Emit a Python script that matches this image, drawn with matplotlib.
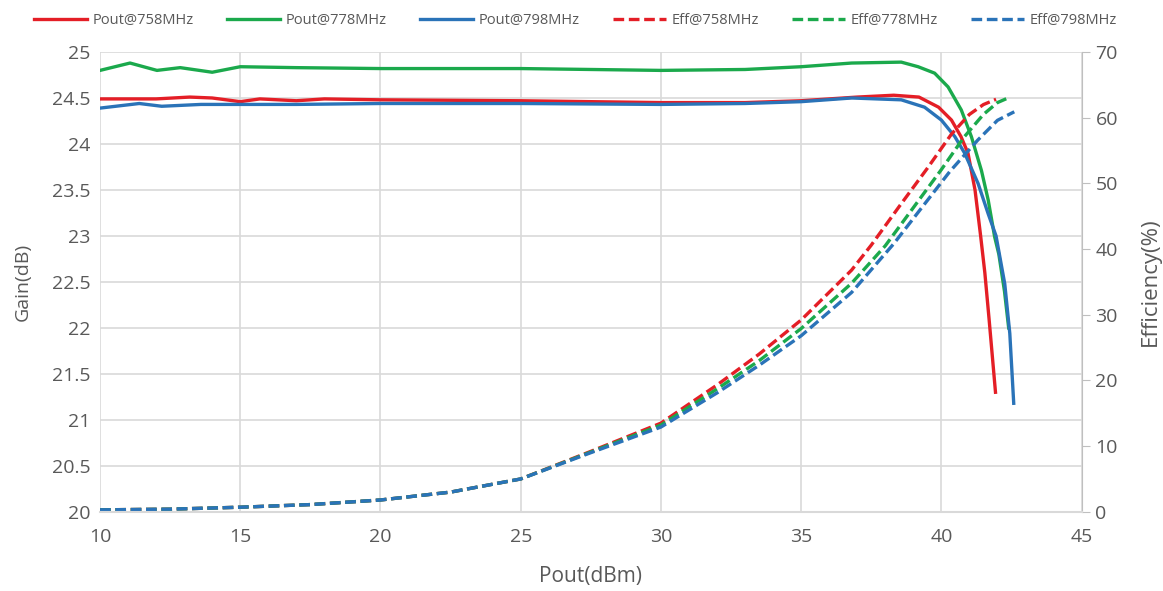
import matplotlib
matplotlib.use('Agg')
import matplotlib.pyplot as plt

plt.rcParams['font.family'] = ['Open Sans', 'DejaVu Sans']

# Gain vs Pout (left axis)
pout_g758 = [10, 11, 12, 13.2, 14, 15, 15.7, 17, 18, 20, 25, 30, 33, 35, 37, 38.3, 39.2,
             39.9, 40.36, 40.7, 40.95, 41.2, 41.4, 41.55, 41.7, 41.93]
gain_758 = [24.49, 24.49, 24.49, 24.51, 24.5, 24.46, 24.49, 24.47, 24.49, 24.48, 24.47, 24.45, 24.45,
            24.47, 24.51, 24.53, 24.51, 24.4, 24.26, 24.08, 23.9, 23.5, 23.0, 22.6, 22.1, 21.3]

pout_g778 = [10, 11.07, 12.03, 12.86, 14, 15, 17, 20, 25, 30, 33, 35, 36.8, 38.57, 39.17, 39.76,
             40.24, 40.71, 41.07, 41.43, 41.67, 41.9, 42.05, 42.25, 42.4]
gain_778 = [24.8, 24.88, 24.8, 24.83, 24.78, 24.84, 24.83, 24.82, 24.82, 24.8, 24.81, 24.84, 24.88,
            24.89, 24.84, 24.77, 24.62, 24.37, 24.08, 23.71, 23.39, 22.99, 22.8, 22.4, 22.0]

pout_g798 = [10, 11.4, 12.2, 13.6, 17, 20, 25, 30, 33, 35, 36.8, 38.57, 39.4, 40.0, 40.48, 40.83,
             41.31, 41.67, 41.95, 42.26, 42.44, 42.58]
gain_798 = [24.39, 24.44, 24.41, 24.43, 24.43, 24.44, 24.44, 24.43, 24.44, 24.46, 24.5, 24.48, 24.4,
            24.26, 24.08, 23.9, 23.57, 23.24, 23.0, 22.48, 21.94, 21.18]

# Efficiency vs Pout (right axis)
pout_e758 = [10, 12.5, 15, 17.5, 20, 22.5, 25, 27.5, 30, 32, 33.5, 35, 36.8, 37.5, 38.5, 39.5,
             40.36, 41, 41.5, 41.95]
eff_758 = [0.3, 0.4, 0.7, 1.1, 1.8, 3.0, 5.0, 9.2, 13.5, 19.3, 24.0, 29.2, 36.8, 40.6, 46.5, 52.3,
           57.5, 60.5, 62.0, 62.8]

pout_e778 = [10, 12.5, 15, 17.5, 20, 22.5, 25, 27.5, 30, 32, 33.5, 35, 36.8, 38, 39, 40,
             40.8, 41.5, 42, 42.43]
eff_778 = [0.3, 0.4, 0.7, 1.1, 1.8, 3.0, 5.0, 9.1, 13.2, 18.7, 23.0, 27.9, 34.8, 40.5, 46.3, 52.1,
           57.0, 60.5, 62.3, 63.1]

pout_e798 = [10, 12.5, 15, 17.5, 20, 22.5, 25, 27.5, 30, 32, 33.5, 35, 36.8, 38.3, 39.3, 40.3,
             41.3, 42, 42.6]
eff_798 = [0.3, 0.4, 0.7, 1.1, 1.8, 3.0, 5.0, 9.0, 12.9, 18.1, 22.3, 26.8, 33.4, 40.8, 46.3, 51.8,
           56.6, 59.6, 60.9]

red = '#E41E26'
green = '#1BA94C'
blue = '#2A73B8'
grey = '#595959'

fig = plt.figure(figsize=(11.63, 5.91), dpi=100)
ax = fig.add_axes([0.086, 0.134, 0.844, 0.778])
ax2 = ax.twinx()

lw = 2.4
dash = (0, (3.2, 1.4))
l1, = ax.plot(pout_g758, gain_758, color=red, lw=lw, label='Pout@758MHz')
l2, = ax.plot(pout_g778, gain_778, color=green, lw=lw, label='Pout@778MHz')
l3, = ax.plot(pout_g798, gain_798, color=blue, lw=lw, label='Pout@798MHz')
l4, = ax2.plot(pout_e758, eff_758, color=red, lw=lw, ls=dash, label='Eff@758MHz')
l5, = ax2.plot(pout_e778, eff_778, color=green, lw=lw, ls=dash, label='Eff@778MHz')
l6, = ax2.plot(pout_e798, eff_798, color=blue, lw=lw, ls=dash, label='Eff@798MHz')

ax.set_xlim(10, 45)
ax.set_ylim(20, 25)
ax2.set_ylim(0, 70)
ax.set_xticks(range(10, 46, 5))
ax.set_yticks([20 + 0.5 * i for i in range(11)])
ax.set_yticklabels(['20', '20.5', '21', '21.5', '22', '22.5', '23', '23.5', '24', '24.5', '25'])
ax2.set_yticks(range(0, 71, 10))

ax.grid(True, color='#D9D9D9', lw=1.2)
ax.set_axisbelow(True)
for a in (ax, ax2):
    for s in a.spines.values():
        s.set_visible(False)
ax2.spines['right'].set_visible(True)
ax2.spines['right'].set_color('#BFBFBF')
ax2.spines['bottom'].set_visible(True)
ax2.spines['bottom'].set_color('#D9D9D9')
ax2.spines['bottom'].set_linewidth(1.5)

ax.tick_params(axis='x', length=0, labelsize=14, labelcolor=grey, pad=12)
ax.tick_params(axis='y', length=0, labelsize=14, labelcolor=grey, pad=7)
ax2.tick_params(axis='y', length=6, color='#BFBFBF', labelsize=14, labelcolor=grey, pad=4)

ax.set_xlabel('Pout(dBm)', fontsize=15, color=grey, labelpad=14)
ax.set_ylabel('Gain(dB)', fontsize=14, color=grey, labelpad=14)
ax2.set_ylabel('Efficiency(%)', fontsize=16, color=grey, labelpad=16)

fig.legend(handles=[l1, l2, l3, l4, l5, l6], loc='upper center', bbox_to_anchor=(0.495, 1.0),
           ncol=6, frameon=False, fontsize=10.5, labelcolor=grey, handlelength=3.6,
           columnspacing=2.3, handletextpad=0.4)

fig.savefig('out.png', dpi=100)
